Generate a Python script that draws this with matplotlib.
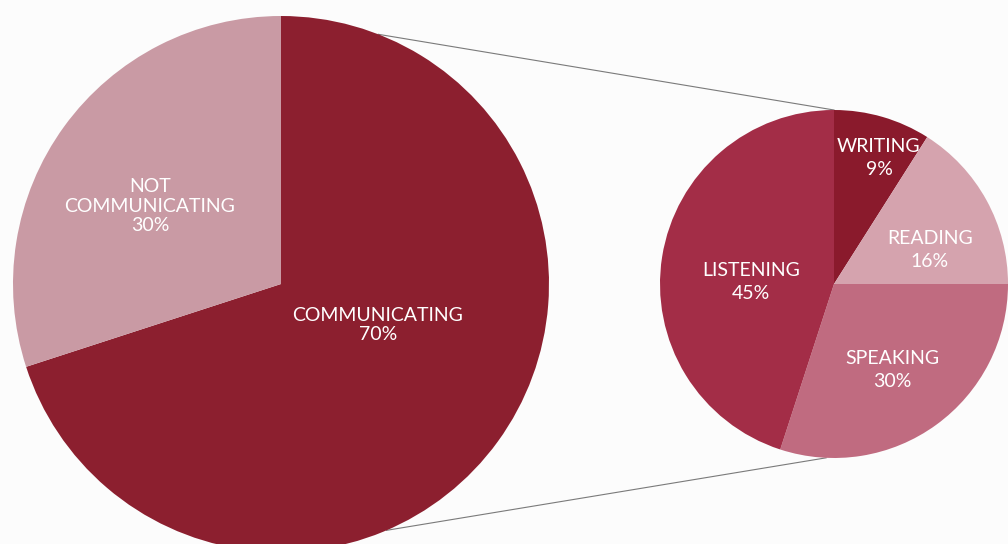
import numpy as np
import matplotlib.pyplot as plt

# big pie
main_labels = ["COMMUNICATING", "NOT\nCOMMUNICATING"]
main_values = [70, 30]
main_colors = ["#8c1f2f", "#c99aa4"]

# breakdown of communicating
sub_labels = ["WRITING", "READING", "SPEAKING", "LISTENING"]
sub_values = [9, 16, 30, 45]
sub_colors = ["#8a1a2c", "#d5a3ae", "#c06b80", "#a32d47"]

W, H = 1008, 544
fig = plt.figure(figsize=(W / 100, H / 100), dpi=100)
fig.patch.set_facecolor("#fcfcfc")
ax = fig.add_axes([0, 0, 1, 1])

big_c, big_r = (281, H - 284), 268
small_c, small_r = (834, H - 284), 174

ax.pie(main_values, colors=main_colors, startangle=90, counterclock=False,
       center=big_c, radius=big_r, frame=True,
       wedgeprops=dict(linewidth=0))
ax.pie(sub_values, colors=sub_colors, startangle=90, counterclock=False,
       center=small_c, radius=small_r, frame=True,
       wedgeprops=dict(linewidth=0))
ax.set_xlim(0, W)
ax.set_ylim(0, H)
ax.set_aspect("equal")
ax.axis("off")


def on_circle(c, r, deg):
    a = np.deg2rad(deg)
    return c[0] + r * np.cos(a), c[1] + r * np.sin(a)


# connector lines between the two pies
for a_big, a_small in [(68.7, 90), (-66.8, -92.6)]:
    x0, y0 = on_circle(big_c, big_r, a_big)
    x1, y1 = on_circle(small_c, small_r, a_small)
    ax.plot([x0, x1], [y0, y1], color="#7a7a7a", lw=0.8, zorder=0)

font = dict(family=["Lato", "DejaVu Sans"], color="white", fontsize=14,
            ha="center", va="center", linespacing=1.2)

main_pos = [(378, 325), (150, 206)]
for (x, y), lab, v in zip(main_pos, main_labels, main_values):
    ax.text(x, H - y, f"{lab}\n{v}%", **font)

font["linespacing"] = 1.4
sub_pos = [(879, 158), (930, 250), (892, 370), (751, 282)]
for (x, y), lab, v in zip(sub_pos, sub_labels, sub_values):
    ax.text(x, H - y, f"{lab}\n{v}%", **font)

fig.savefig("out.png", dpi=100, facecolor=fig.get_facecolor())
